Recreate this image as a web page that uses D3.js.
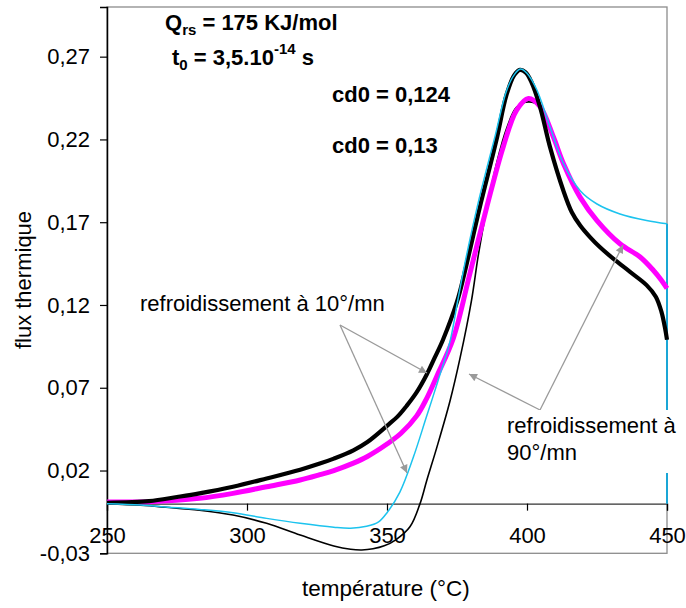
<!DOCTYPE html>
<html><head><meta charset="utf-8">
<script src="https://cdn.jsdelivr.net/npm/d3@7"></script>
<style>
body{margin:0;background:#fff;}
text{font-family:"Liberation Sans",Arial,sans-serif;}
</style></head>
<body><svg id="c" width="686" height="608"></svg>
<script>
const xTicks=[250,300,350,400,450];
const yTicks=[-0.03,0.02,0.07,0.12,0.17,0.22,0.27];
// refroidissement 10°/mn, cd0 = 0,124 (thick black)
const slow124=[[250,0.0005],[265,0.0015],[275,0.004],[283,0.0062],[295,0.0102],[307,0.0152],[319,0.0205],[326,0.0242],[331,0.0272],[338,0.0322],[343,0.0372],[350,0.047],[354,0.053],[357,0.059],[360.5,0.067],[364.2,0.078],[367,0.088],[370,0.099],[375,0.122],[377.5,0.138],[383,0.178],[389,0.219],[392.7,0.247],[395.5,0.259],[397.5,0.262],[399.5,0.2605],[401.5,0.255],[404.6,0.24],[408.2,0.2155],[413,0.189],[416,0.176],[419,0.168],[422.5,0.161],[426,0.155],[430.8,0.148],[436.8,0.140],[442.7,0.132],[446,0.125],[448,0.116],[449.3,0.106],[450,0.099]];
// refroidissement 10°/mn, cd0 = 0,13 (magenta)
const slow13=[[250,0.001],[265,0.0012],[283,0.0032],[295,0.0062],[307,0.0102],[319,0.0143],[326,0.0175],[331,0.020],[338,0.0245],[343,0.0285],[350,0.036],[355,0.0425],[360.6,0.053],[364,0.063],[367.8,0.077],[373.7,0.1],[379.6,0.139],[385.6,0.179],[391.5,0.2155],[396.3,0.2377],[400.5,0.2447],[404.6,0.24],[409.4,0.2216],[413,0.2055],[419,0.185],[425,0.171],[433.2,0.157],[440.4,0.149],[445.1,0.141],[448,0.135],[450,0.13]];
// refroidissement 90°/mn, cd0 = 0,124 (cyan)
const fast124=[[250,0],[262,-0.0008],[271,-0.002],[283,-0.0035],[295,-0.0055],[307,-0.0089],[319,-0.0119],[331,-0.0143],[337,-0.0149],[342.7,-0.0137],[347,-0.011],[350,-0.0055],[354.6,0.007],[359.4,0.028],[364,0.052],[368,0.073],[372.5,0.098],[375.3,0.123],[377.8,0.145],[382.6,0.182],[388.6,0.222],[392.6,0.249],[395.4,0.259],[397.6,0.2625],[400,0.26],[403.5,0.25],[408.2,0.2276],[413,0.2055],[419,0.189],[425,0.181],[433.2,0.175],[442.7,0.171],[450,0.169]];
// refroidissement 90°/mn, cd0 = 0,13 (thin black)
const fast13=[[250,0],[262,-0.001],[271,-0.0022],[283,-0.004],[295,-0.0069],[307,-0.0119],[319,-0.019],[331,-0.0256],[337,-0.0276],[341,-0.028],[345,-0.0273],[349,-0.0255],[353,-0.022],[358.2,-0.014],[361.8,0],[364.2,0.014],[367.8,0.034],[372.5,0.062],[376.1,0.088],[380.2,0.123],[382.6,0.15],[385.6,0.178],[389.2,0.206],[392.7,0.2266],[396.3,0.2395],[400.6,0.2427],[404.6,0.24],[409.4,0.2216],[413,0.2055],[419,0.185],[425,0.171],[433.2,0.157],[440.4,0.149],[445.1,0.141],[448,0.135],[450,0.13]];

const svg=d3.select("#c");
const x=d3.scaleLinear().domain([250,450]).range([107,667]);
const y=d3.scaleLinear().domain([-0.03,0.30]).range([553.3,7]);
const fmt=d=>d3.format(".2f")(d).replace(".",",").replace("\u2212","-");

// frame
svg.append("rect").attr("x",x(250)).attr("y",y(0.30)).attr("width",x(450)-x(250)).attr("height",y(-0.03)-y(0.30))
  .attr("fill","none").attr("stroke","#8c8c8c").attr("stroke-width",1.3);

const line=d3.line().x(d=>x(d[0])).y(d=>y(d[1])).curve(d3.curveCatmullRom.alpha(0.5));

// x axis at zero
const gx=svg.append("g").attr("transform",`translate(0,${y(0)})`)
  .call(d3.axisBottom(x).tickValues(xTicks).tickSize(7).tickPadding(17).tickFormat(d3.format("d")));
gx.select(".domain").attr("stroke","#333").attr("stroke-width",1.3);
gx.selectAll(".tick line").attr("stroke","#000").attr("stroke-width",1.2);
gx.selectAll("text").attr("font-size",22).attr("fill","#000").attr("font-family","Liberation Sans, Arial, sans-serif");

const gy=svg.append("g").attr("transform",`translate(${x(250)},0)`)
  .call(d3.axisLeft(y).tickValues(yTicks).tickSize(7).tickPadding(10).tickFormat(fmt));
gy.select(".domain").attr("stroke","#000").attr("stroke-width",1.5);
gy.selectAll(".tick line").attr("stroke","#000").attr("stroke-width",1.2);
gy.selectAll("text").attr("font-size",22).attr("fill","#000").attr("font-family","Liberation Sans, Arial, sans-serif");

// curves
svg.append("path").datum(fast13).attr("d",line).attr("fill","none").attr("stroke","#000").attr("stroke-width",1.6);
svg.append("path").datum([fast124[fast124.length-1],[450,0]]).attr("d",d3.line().x(d=>x(d[0])).y(d=>y(d[1])))
  .attr("fill","none").attr("stroke","#1aa6d6").attr("stroke-width",2);
svg.append("path").datum(slow13).attr("d",line).attr("fill","none").attr("stroke","#ff00ff").attr("stroke-width",5);
svg.append("path").datum(slow124).attr("d",line).attr("fill","none").attr("stroke","#000").attr("stroke-width",4.2);
svg.append("path").datum(fast124).attr("d",line).attr("fill","none").attr("stroke","#1cc3ee").attr("stroke-width",1.5);

// arrows
const defs=svg.append("defs");
defs.append("marker").attr("id","ah").attr("viewBox","0 0 10 10").attr("refX",10).attr("refY",5)
  .attr("markerWidth",10).attr("markerHeight",8).attr("markerUnits","userSpaceOnUse").attr("orient","auto")
  .append("path").attr("d","M0,0 L10,5 L0,10 Z").attr("fill","#9a9a9a");
const arrows=[[[340,325],[427,373]],[[340,325],[407,473]],[[540,410],[469,374]],[[540,410],[623,245]]];
arrows.forEach(a=>svg.append("line").attr("x1",a[0][0]).attr("y1",a[0][1]).attr("x2",a[1][0]).attr("y2",a[1][1])
  .attr("stroke","#9a9a9a").attr("stroke-width",1.3).attr("marker-end","url(#ah)"));

// texts
const t=(xx,yy,s,o={})=>{const e=svg.append("text").attr("x",xx).attr("y",yy).attr("font-size",o.size||22).attr("fill","#000");
  if(o.bold)e.attr("font-weight","bold"); if(o.anchor)e.attr("text-anchor",o.anchor); e.text(s); return e;};
const q=svg.append("text").attr("x",165).attr("y",30).attr("font-size",22).attr("font-weight","bold");
q.append("tspan").text("Q");
q.append("tspan").attr("font-size",15).attr("dy",5).text("rs");
q.append("tspan").attr("dy",-5).text(" = 175 KJ/mol");
const t0=svg.append("text").attr("x",172).attr("y",65).attr("font-size",22).attr("font-weight","bold");
t0.append("tspan").text("t");
t0.append("tspan").attr("font-size",15).attr("dy",5).text("0");
t0.append("tspan").attr("dy",-5).text(" = 3,5.10");
t0.append("tspan").attr("font-size",15).attr("dy",-11).text("-14");
t0.append("tspan").attr("dy",11).text(" s");
t(332,102,"cd0 = 0,124",{bold:true});
t(332,153,"cd0 = 0,13",{bold:true});
t(140,311,"refroidissement à 10°/mn");
svg.append("rect").attr("x",505).attr("y",410).attr("width",181).attr("height",63).attr("fill","#fff");
t(507,433,"refroidissement à");
t(507,460,"90°/mn");
t(302,596,"température (°C)",{size:22.5});
svg.append("text").attr("transform","translate(31,280) rotate(-90)").attr("text-anchor","middle").attr("font-size",22).text("flux thermique");
</script></body></html>
